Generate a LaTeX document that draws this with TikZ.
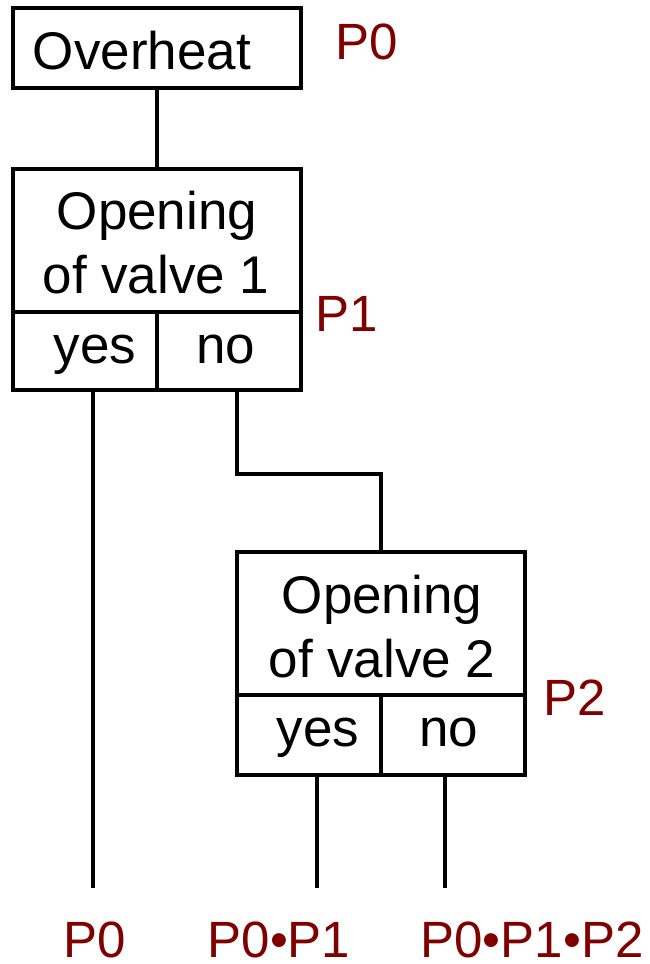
\documentclass[tikz,border=0pt]{standalone}
\usepackage{fontspec}
\setmainfont{Liberation Sans}
\definecolor{plab}{RGB}{128,0,0}
\begin{document}
\begin{tikzpicture}[x=1pt,y=-1pt,
  cell/.style={draw=black,line width=4pt,rectangle,inner sep=0pt,minimum width=#1},
  txt/.style={anchor=base,inner sep=0pt,font=\fontsize{53}{64}\selectfont},
  plabel/.style={anchor=base,inner sep=0pt,text depth=0pt,text=plab,font=\fontsize{51}{60}\selectfont},
  wire/.style={line width=4pt}]
\useasboundingbox (0,0) rectangle (650,964);
% Overheat box
\node[cell=288,minimum height=80] (over) at (157,48) {};
\node[txt] (overt) at (142,69) {Overheat};
\node[plabel] (p0top) at (367,59) {P0};
% decision box 1
\node[cell=288,minimum height=143] (top1) at (157,240.5) {};
\node[cell=144,minimum height=78] (yes1) at (85,351) {};
\node[cell=144,minimum height=78] (no1) at (229,351) {};
\node[txt] (t1a) at (157,229) {Opening};
\node[txt] (t1b) at (156,293) {of valve 1};
\node[txt] (y1t) at (95,363) {yes};
\node[txt] (n1t) at (226,363) {no};
\node[plabel] (p1) at (347,331) {P1};
% decision box 2
\node[cell=288,minimum height=143] (top2) at (381,623.5) {};
\node[cell=144,minimum height=80] (yes2) at (309,735) {};
\node[cell=144,minimum height=80] (no2) at (453,735) {};
\node[txt] (t2a) at (382,613) {Opening};
\node[txt] (t2b) at (382,677) {of valve 2};
\node[txt] (y2t) at (318,746) {yes};
\node[txt] (n2t) at (449,746) {no};
\node[plabel] (p2) at (575,715) {P2};
% end points
\coordinate (e0) at (93,888);
\coordinate (e1) at (317,888);
\coordinate (e2) at (445,888);
\node[plabel] (r0) at (95,957) {P0};
\node[plabel] (r1) at (279,957) {P0•P1};
\node[plabel] (r2) at (532,957) {P0•P1•P2};
% connectors
\draw[wire] (over.south) -- (top1.north);
\draw[wire] ([xshift=8]yes1.south) -- (e0);
\draw[wire] ([xshift=8]no1.south) -- ++(0,82) -| (top2.north);
\draw[wire] ([xshift=8]yes2.south) -- (e1);
\draw[wire] ([xshift=-8]no2.south) -- (e2);
\end{tikzpicture}
\end{document}
